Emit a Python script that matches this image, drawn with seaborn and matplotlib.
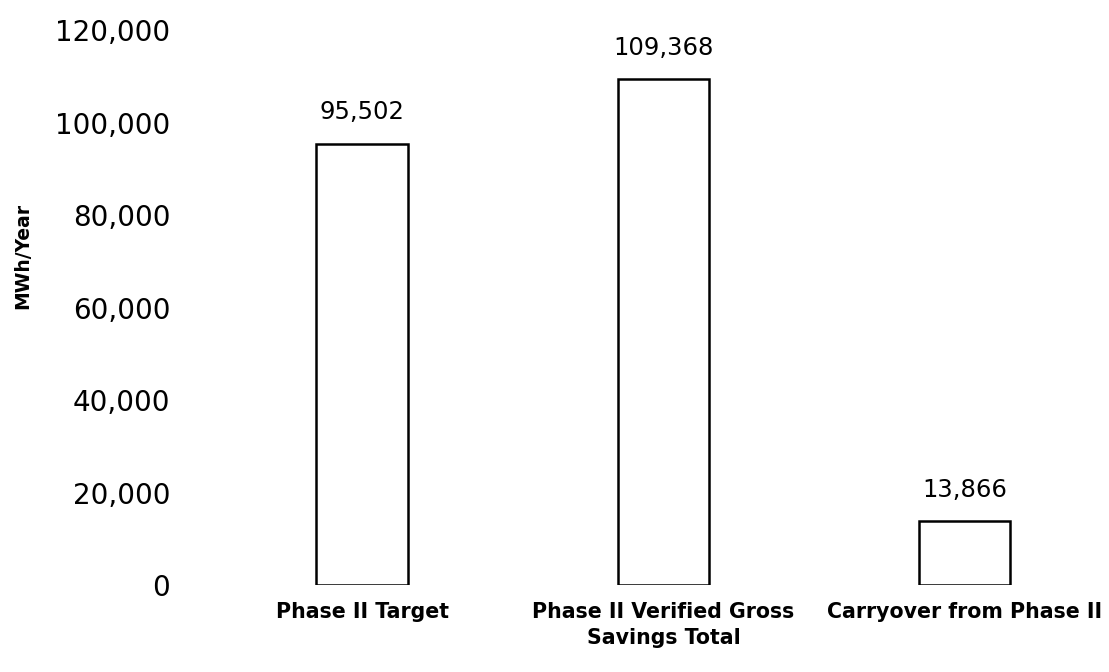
import matplotlib
matplotlib.use("Agg")
import matplotlib.pyplot as plt
import pandas as pd
import seaborn as sns

categories = ["Phase II Target", "Phase II Verified Gross\nSavings Total", "Carryover from Phase II"]
mwh_per_year = [95502, 109368, 13866]
y_ticks = [0, 20000, 40000, 60000, 80000, 100000, 120000]

sns.set_style("white", {"text.color": "black", "axes.labelcolor": "black",
                        "xtick.color": "black", "ytick.color": "black"})
plt.rcParams['font.family'] = ['DejaVu Sans']

df = pd.DataFrame({"category": categories, "mwh": mwh_per_year})

fig = plt.figure(figsize=(11.09, 6.72), dpi=100)
ax = fig.add_axes([0.191, 0.129, 0.809, 0.826])

sns.barplot(data=df, x="category", y="mwh", color="white", edgecolor="black",
            linewidth=1.8, width=0.305, ax=ax)

for i, v in enumerate(mwh_per_year):
    ax.annotate(f"{v:,}", (i, v), xytext=(0, 14), textcoords="offset points",
                ha="center", va="bottom", fontsize=17.5, color="black")

ax.set_ylim(0, 120000)
ax.set_xlim(-0.5, 2.48)
ax.set_yticks(y_ticks)
ax.set_yticklabels([f"{t:,}" for t in y_ticks], fontsize=20)
ax.tick_params(axis="y", pad=30, length=0)
ax.tick_params(axis="x", pad=12, length=0)
for lbl in ax.get_xticklabels():
    lbl.set_fontsize(14.8)
    lbl.set_fontweight("bold")
    lbl.set_linespacing(1.4)
ax.set_xlabel("")
ax.set_ylabel("MWh/Year", fontsize=13.5, fontweight="bold")
ax.yaxis.set_label_coords(-0.2, 0.593)
sns.despine(ax=ax, left=True, bottom=True)

fig.savefig("out.png", dpi=100)
